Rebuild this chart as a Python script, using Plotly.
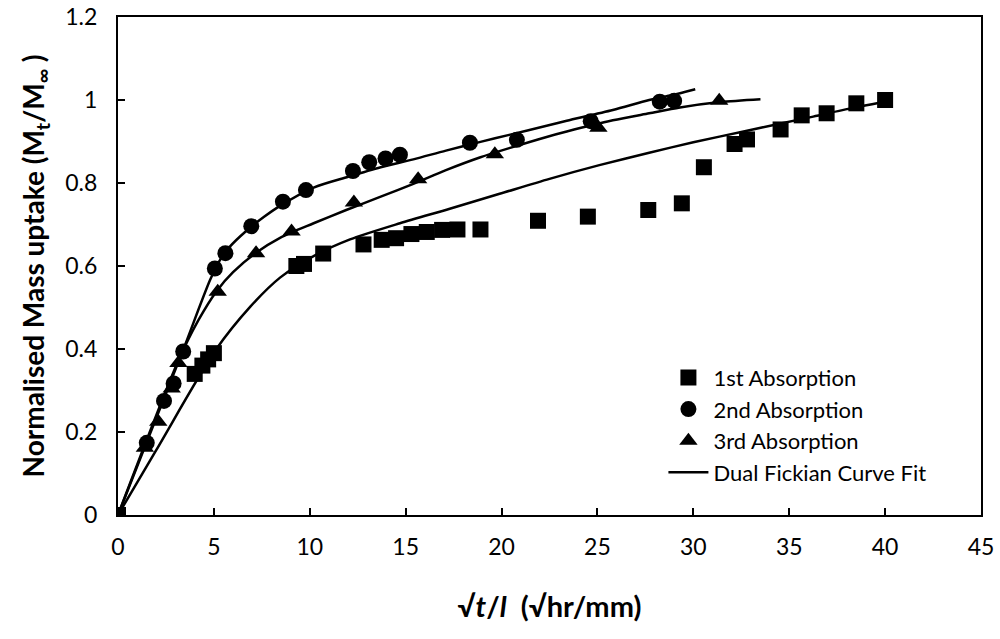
import plotly.graph_objects as go

# ---- data ----
abs1_x = [0, 4.0, 4.4, 4.7, 5.0, 9.3, 9.7, 10.7, 12.8, 13.75, 14.5, 15.3, 16.1, 16.9, 17.7, 18.9,
          21.9, 24.5, 27.65, 29.4, 30.55, 32.15, 32.8, 34.55, 35.65, 36.95, 38.5, 40.0]
abs1_y = [0, 0.34, 0.36, 0.375, 0.39, 0.60, 0.605, 0.63, 0.652, 0.663, 0.667, 0.677, 0.682, 0.687, 0.688, 0.688,
          0.709, 0.719, 0.735, 0.751, 0.838, 0.894, 0.905, 0.929, 0.963, 0.968, 0.992, 1.0]

abs2_x = [0, 1.5, 2.4, 2.9, 3.4, 5.05, 5.6, 6.95, 8.6, 9.8, 12.25, 13.1, 13.95, 14.7, 18.35, 20.8, 24.65, 28.25, 29.0]
abs2_y = [0, 0.174, 0.275, 0.317, 0.394, 0.594, 0.631, 0.696, 0.755, 0.783, 0.829, 0.85, 0.859, 0.868, 0.897, 0.904, 0.949, 0.996, 0.998]

abs3_x = [0, 1.4, 2.1, 2.8, 3.15, 5.2, 7.2, 9.05, 12.3, 15.65, 19.65, 25.05, 31.35]
abs3_y = [0, 0.162, 0.225, 0.305, 0.366, 0.538, 0.631, 0.683, 0.753, 0.809, 0.869, 0.933, 0.998]

fit1_x = [0, 2.0, 5.1, 6.9, 8.45, 10.2, 12.1, 14.7, 17.3, 19.9, 22.5, 25.1, 27.7, 30.0, 32.8, 34.5, 36.25, 38.0, 40.0]
fit1_y = [0, 0.157, 0.398, 0.502, 0.572, 0.624, 0.664, 0.703, 0.738, 0.774, 0.810, 0.843, 0.873, 0.898, 0.926, 0.943, 0.960, 0.978, 0.996]

fit2_x = [0, 1.5, 3.4, 4.8, 5.3, 5.8, 6.7, 7.6, 8.45, 10.2, 12.0, 13.7, 15.4, 17.1, 18.9, 20.4, 22.35, 23.4, 25.8, 27.7, 28.9, 30.1]
fit2_y = [0, 0.176, 0.398, 0.566, 0.613, 0.645, 0.685, 0.718, 0.745, 0.789, 0.815, 0.838, 0.857, 0.878, 0.899, 0.916, 0.938, 0.950, 0.976, 1.0, 1.012, 1.026]

fit3_x = [0, 3.15, 4.2, 5.15, 6.0, 7.2, 8.45, 10.2, 11.9, 13.7, 15.4, 17.1, 18.9, 20.4, 22.35, 23.4, 25.8, 27.7, 29.3, 31.4, 33.5]
fit3_y = [0, 0.372, 0.470, 0.540, 0.585, 0.632, 0.668, 0.703, 0.735, 0.767, 0.798, 0.831, 0.862, 0.884, 0.911, 0.924, 0.951, 0.968, 0.982, 0.995, 1.002]

x_ticks = [0, 5, 10, 15, 20, 25, 30, 35, 40, 45]
y_ticks = [0, 0.2, 0.4, 0.6, 0.8, 1.0, 1.2]
y_ticklabels = ["0", "0.2", "0.4", "0.6", "0.8", "1", "1.2"]

FONT = "Lato"

fig = go.Figure()

for i, (xs, ys) in enumerate([(fit1_x, fit1_y), (fit2_x, fit2_y), (fit3_x, fit3_y)]):
    fig.add_trace(go.Scatter(
        x=xs, y=ys, mode="lines", name="Dual Fickian Curve Fit",
        line=dict(color="black", width=2.5, shape="spline", smoothing=0.8),
        showlegend=(i == 0),
        legendrank=4, legendgroup="g4",
    ))

markers = [("1st Absorption", abs1_x, abs1_y, "square", 1),
           ("2nd Absorption", abs2_x, abs2_y, "circle", 2),
           ("3rd Absorption", abs3_x, abs3_y, "triangle-up", 3)]
for name, xs, ys, sym, rank in markers:
    fig.add_trace(go.Scatter(
        x=xs, y=ys, mode="markers", name=name,
        marker=dict(symbol=sym, size=16, color="black", line=dict(width=0)),
        legendrank=rank, legendgroup="g%d" % rank,
    ))

fig.update_layout(
    width=1000, height=639,
    margin=dict(l=118, r=19, t=17, b=124),
    paper_bgcolor="white", plot_bgcolor="white",
    font=dict(family=FONT, size=23, color="black"),
    legend=dict(x=0.632, y=0.318, xanchor="left", yanchor="top",
                bgcolor="rgba(0,0,0,0)", font=dict(family=FONT, size=22),
                tracegroupgap=0, traceorder="grouped", itemwidth=40),
    showlegend=True,
)

fig.update_xaxes(
    range=[0, 45], tickvals=x_ticks, ticktext=[str(v) for v in x_ticks],
    ticks="inside", ticklen=7, tickwidth=1.5, tickcolor="black",
    showline=True, linecolor="black", linewidth=2, mirror=True, automargin=False,
    showgrid=False, zeroline=False, ticklabelstandoff=10,
    title=dict(text="<b>√<i>t</i>/<i>l</i>  (√hr/mm)</b>", font=dict(family=FONT, size=29), standoff=38),
)
fig.update_yaxes(
    range=[0, 1.2], tickvals=y_ticks, ticktext=y_ticklabels,
    ticks="inside", ticklen=7, tickwidth=1.5, tickcolor="black",
    showline=True, linecolor="black", linewidth=2, mirror=True, automargin=False,
    showgrid=False, zeroline=False, ticklabelstandoff=14,
    title=dict(text="<b>Normalised Mass uptake (M<sub>t</sub>/M<sub>∞</sub> )</b>",
               font=dict(family=FONT, size=28), standoff=12),
)

fig.write_html("out.html")
